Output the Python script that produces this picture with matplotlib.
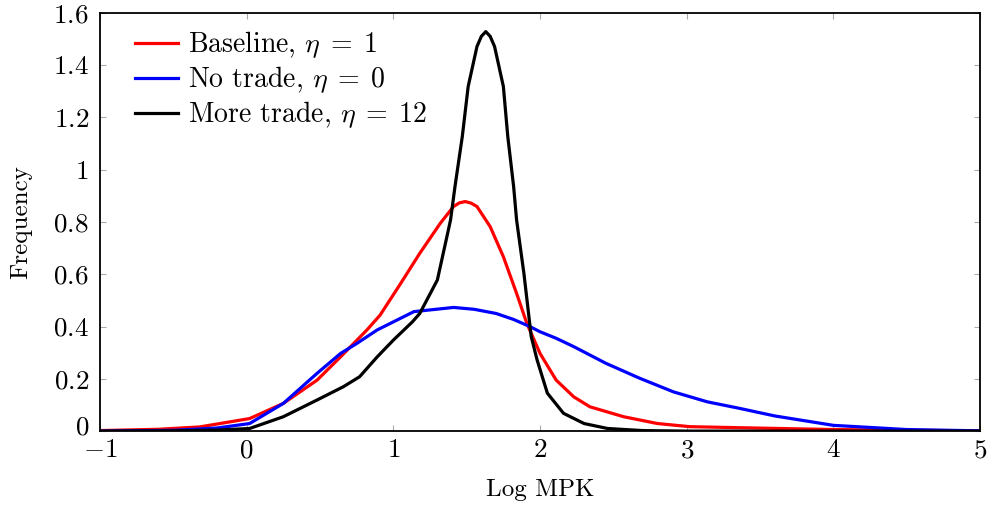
import matplotlib
matplotlib.use("Agg")
import matplotlib.pyplot as plt
import matplotlib.transforms as mtransforms

plt.rcParams['font.family'] = ['cmr10', 'DejaVu Serif']
plt.rcParams['mathtext.fontset'] = 'cm'
plt.rcParams['axes.formatter.use_mathtext'] = True
plt.rcParams['axes.unicode_minus'] = False

# Baseline, eta = 1
x_base = [-1, -0.6, -0.32, 0.02, 0.25, 0.48, 0.64, 0.82, 0.91, 1.05, 1.18, 1.32, 1.41, 1.45, 1.49,
          1.53, 1.57, 1.66, 1.75, 1.84, 1.91, 2.0, 2.11, 2.23, 2.34, 2.57, 2.8, 3.02, 3.36, 4.0, 4.5, 5.0]
y_base = [0.002, 0.007, 0.016, 0.048, 0.106, 0.195, 0.284, 0.387, 0.444, 0.565, 0.68, 0.795, 0.859, 0.873, 0.878,
          0.872, 0.859, 0.782, 0.667, 0.527, 0.412, 0.297, 0.195, 0.131, 0.093, 0.055, 0.029, 0.017, 0.013, 0.006, 0.003, 0.001]

# No trade, eta = 0
x_notrade = [-1, -0.5, -0.2, 0.02, 0.25, 0.48, 0.64, 0.75, 0.89, 1.14, 1.41, 1.55, 1.7, 1.82, 1.93, 2.0, 2.11,
             2.23, 2.45, 2.68, 2.91, 3.14, 3.36, 3.6, 4.0, 4.5, 5.0]
y_notrade = [0.0, 0.003, 0.012, 0.029, 0.106, 0.221, 0.297, 0.335, 0.387, 0.457, 0.473, 0.466, 0.45, 0.427, 0.40, 0.38, 0.355,
             0.323, 0.259, 0.202, 0.15, 0.112, 0.087, 0.058, 0.022, 0.006, 0.001]

# More trade, eta = 12
x_more = [-1, -0.5, -0.2, 0.02, 0.25, 0.48, 0.66, 0.77, 0.89, 1.0, 1.13, 1.18, 1.3, 1.36, 1.39, 1.42,
          1.47, 1.51, 1.57, 1.6, 1.63, 1.66, 1.69, 1.75, 1.78, 1.82, 1.84, 1.89, 1.94, 1.98, 2.05,
          2.16, 2.3, 2.46, 2.7, 3.0, 5.0]
y_more = [0, 0.001, 0.004, 0.01, 0.055, 0.119, 0.17, 0.208, 0.284, 0.348, 0.418, 0.45, 0.578, 0.731, 0.808, 0.935,
          1.127, 1.318, 1.471, 1.51, 1.528, 1.51, 1.471, 1.318, 1.127, 0.935, 0.808, 0.603, 0.361, 0.272, 0.145,
          0.068, 0.029, 0.01, 0.002, 0, 0]

x_ticks = [-1, 0, 1, 2, 3, 4, 5]
y_ticks = [0, 0.2, 0.4, 0.6, 0.8, 1, 1.2, 1.4, 1.6]
y_tick_labels = ['0', '0.2', '0.4', '0.6', '0.8', '1', '1.2', '1.4', '1.6']

fig = plt.figure(figsize=(9.9, 5.12), dpi=100)
ax = fig.add_axes([0.101, 0.158, 0.889, 0.817])

ax.plot(x_base, y_base, color='red', lw=2.3, label=r'Baseline, $\eta\;=\;1$')
ax.plot(x_notrade, y_notrade, color='blue', lw=2.3, label=r'No trade, $\eta\;=\;0$')
ax.plot(x_more, y_more, color='black', lw=2.3, label=r'More trade, $\eta\;=\;12$')

ax.set_xlim(-1, 5)
ax.set_ylim(0, 1.6)
ax.set_xticks(x_ticks)
ax.set_xticklabels(['$%d$' % t for t in x_ticks])
ax.set_yticks(y_ticks)
ax.set_yticklabels(['$%s$' % s for s in y_tick_labels])
ax.tick_params(direction='in', length=4.5, width=0.8, color='#aaaaaa',
               top=True, right=True, labelsize=19.5)
ax.tick_params(axis='x', pad=5.5)
ax.tick_params(axis='y', pad=8)

# nudge the y "0" up a little so it doesn't collide with the x "-1"
zero_lbl = ax.get_yticklabels()[0]
zero_lbl.set_transform(zero_lbl.get_transform() +
                       mtransforms.ScaledTranslation(0, 4 / 72, fig.dpi_scale_trans))

for sp in ax.spines.values():
    sp.set_linewidth(1.3)

ax.set_xlabel('Log MPK', fontsize=18, labelpad=12)
ax.set_ylabel('Frequency', fontsize=18, labelpad=15)

ax.legend(loc='upper left', bbox_to_anchor=(0.04, 0.96), frameon=False, borderpad=0,
          borderaxespad=0, fontsize=20, handlelength=1.55, handletextpad=0.35,
          labelspacing=0.15)

fig.savefig('out.png', dpi=100)
